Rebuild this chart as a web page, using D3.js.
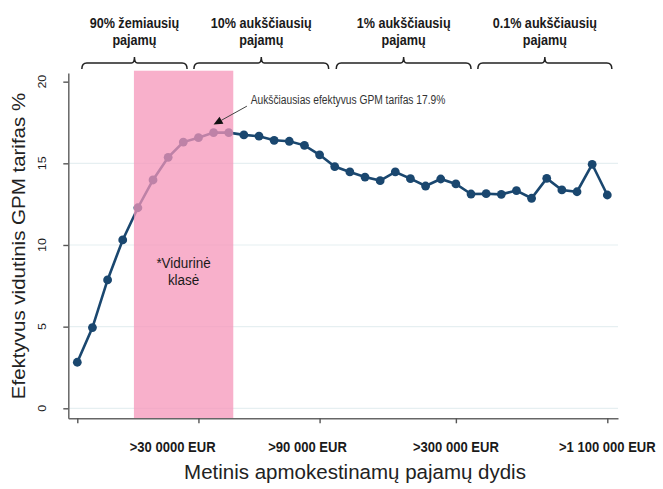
<!DOCTYPE html>
<html>
<head>
<meta charset="utf-8">
<style>
  body { margin: 0; background: #fff; }
  svg { display: block; font-family: "Liberation Sans", Arial, sans-serif; }
</style>
</head>
<body>
<svg id="chart"></svg>
<script src="https://cdn.jsdelivr.net/npm/d3@7"></script>
<script>
  // effective average tax rate (%) per income bin, left to right
  const rates = [
    2.82, 4.94, 7.86, 10.31, 12.28, 13.98, 15.37, 16.3, 16.57, 16.88,
    16.88, 16.74, 16.66, 16.41, 16.35, 16.1, 15.52, 14.8, 14.47, 14.16,
    13.94, 14.47, 14.06, 13.61, 14.04, 13.74, 13.12, 13.14, 13.1, 13.33,
    12.86, 14.08, 13.37, 13.26, 14.94, 13.06,
  ];

  const xTickBins = [0, 8, 16, 25, 35];
  const xLabelBins = [6.3, 15.2, 25, 35];
  const xLabels = [">30 0000 EUR", ">90 000 EUR", ">300 000 EUR", ">1 100 000 EUR"];
  const yTicks = [0, 5, 10, 15, 20];

  const groupNames = [
    ["90% žemiausių", "pajamų"],
    ["10% aukščiausių", "pajamų"],
    ["1% aukščiausių", "pajamų"],
    ["0.1% aukščiausių", "pajamų"],
  ];
  const groupFrom = [0.3, 7.7, 17.1, 26.45];
  const groupTo = [7.25, 16.6, 26.0, 35.3];

  const middleClass = [3.74, 10.3];
  const middleClassText = ["*Vidurinė", "klasė"];
  const noteText = "Aukščiausias efektyvus GPM tarifas 17.9%";
  const notePeakBin = 9;

  const width = 663;
  const height = 489;

  const svg = d3.select("#chart").attr("width", width).attr("height", height);

  const x = d3.scaleLinear().domain([-0.594, 35.706]).range([68.3, 618]);
  const y = d3.scaleLinear().domain([-0.612, 20.53]).range([418.3, 73]);

  // text helper, sq = horizontal squeeze
  function label(parent, px, py, txt, opts) {
    const o = opts || {};
    const sq = o.sq == null ? 0.87 : o.sq;
    let tr = `translate(${px},${py}) scale(${sq},1)`;
    if (o.rotate) tr += ` rotate(${o.rotate})`;
    return parent
      .append("text")
      .attr("transform", tr)
      .attr("text-anchor", o.anchor || "middle")
      .attr("font-size", o.size || 14)
      .attr("font-weight", o.bold ? "bold" : "normal")
      .attr("fill", o.fill || "#1a1a1a")
      .text(txt);
  }

  // gridlines
  svg
    .append("g")
    .selectAll("line")
    .data(yTicks.filter((d) => d < 20))
    .join("line")
    .attr("x1", x.range()[0])
    .attr("x2", x.range()[1])
    .attr("y1", (d) => y(d))
    .attr("y2", (d) => y(d))
    .attr("stroke", "#e6eff1")
    .attr("stroke-width", 1.2);

  // series
  const line = d3
    .line()
    .x((d, i) => x(i))
    .y((d) => y(d));

  svg
    .append("path")
    .datum(rates)
    .attr("fill", "none")
    .attr("stroke", "#1a476f")
    .attr("stroke-width", 2.6)
    .attr("d", line);

  svg
    .append("g")
    .selectAll("circle")
    .data(rates)
    .join("circle")
    .attr("cx", (d, i) => x(i))
    .attr("cy", (d) => y(d))
    .attr("r", 4.4)
    .attr("fill", "#1a476f");

  // middle class band (drawn on top, see-through)
  svg
    .append("rect")
    .attr("x", x(middleClass[0]))
    .attr("width", x(middleClass[1]) - x(middleClass[0]))
    .attr("y", y(20.67))
    .attr("height", y.range()[0] - y(20.67))
    .attr("fill", "rgb(246,149,185)")
    .attr("fill-opacity", 0.75);

  const bandMid = x((middleClass[0] + middleClass[1]) / 2);
  label(svg, bandMid, 268, middleClassText[0], { size: 15.5 });
  label(svg, bandMid, 285, middleClassText[1], { size: 15.5 });

  // axes
  const yAxis = svg
    .append("g")
    .attr("transform", `translate(${x.range()[0]},0)`)
    .call(d3.axisLeft(y).tickValues(yTicks).tickSize(5).tickSizeOuter(0).tickFormat(""));

  const xAxis = svg
    .append("g")
    .attr("transform", `translate(0,${y.range()[0]})`)
    .call(d3.axisBottom(x).tickValues(xTickBins).tickSize(5).tickSizeOuter(0).tickFormat(""));

  [yAxis, xAxis].forEach((a) => {
    a.select(".domain").attr("stroke", "#666").attr("stroke-width", 1.5);
    a.selectAll(".tick line").attr("stroke", "#555").attr("stroke-width", 1.4);
  });

  yTicks.forEach((t) => {
    label(svg, 46, y(t), t, { size: 12.5, rotate: -90 });
  });

  xLabels.forEach((t, i) => {
    label(svg, x(xLabelBins[i]), 452, t, { size: 15, bold: true });
  });

  // axis titles
  label(svg, 25, 246, "Efektyvus vidutinis GPM tarifas %", { size: 20.5, rotate: -90, fill: "#222" });
  label(svg, 355, 479, "Metinis apmokestinamų pajamų dydis", { size: 20.5, sq: 1, fill: "#222" });

  // income group brackets on top
  const bTop = 63;
  groupNames.forEach((names, i) => {
    const a = x(groupFrom[i]);
    const b = x(groupTo[i]);
    const m = (a + b) / 2;
    svg
      .append("path")
      .attr(
        "d",
        `M${a},${bTop + 6} Q${a},${bTop} ${a + 5},${bTop} L${m - 3},${bTop} Q${m},${bTop} ${m},${bTop - 6}` +
          ` Q${m},${bTop} ${m + 3},${bTop} L${b - 5},${bTop} Q${b},${bTop} ${b},${bTop + 6}`
      )
      .attr("fill", "none")
      .attr("stroke", "#222")
      .attr("stroke-width", 1.5);
    label(svg, m, 28, names[0], { size: 14.5, bold: true });
    label(svg, m, 45, names[1], { size: 14.5, bold: true });
  });

  // peak annotation with arrow
  const tipX = x(notePeakBin);
  const tipY = y(rates[notePeakBin]) - 8;
  const tailX = x(11.2);
  const tailY = y(18.5);
  const ang = Math.atan2(tipY - tailY, tipX - tailX);
  const hl = 9;
  const hw = 4;
  const baseX = tipX - hl * Math.cos(ang);
  const baseY = tipY - hl * Math.sin(ang);

  svg
    .append("line")
    .attr("x1", tailX)
    .attr("y1", tailY)
    .attr("x2", baseX)
    .attr("y2", baseY)
    .attr("stroke", "#444")
    .attr("stroke-width", 1);

  svg
    .append("path")
    .attr(
      "d",
      `M${tipX},${tipY} L${baseX + hw * Math.sin(ang)},${baseY - hw * Math.cos(ang)} L${baseX - hw * Math.sin(ang)},${baseY + hw * Math.cos(ang)} Z`
    )
    .attr("fill", "#111");

  label(svg, x(11.45), 104, noteText, { size: 12.5, sq: 0.82, anchor: "start", fill: "#333" });
</script>
</body>
</html>
